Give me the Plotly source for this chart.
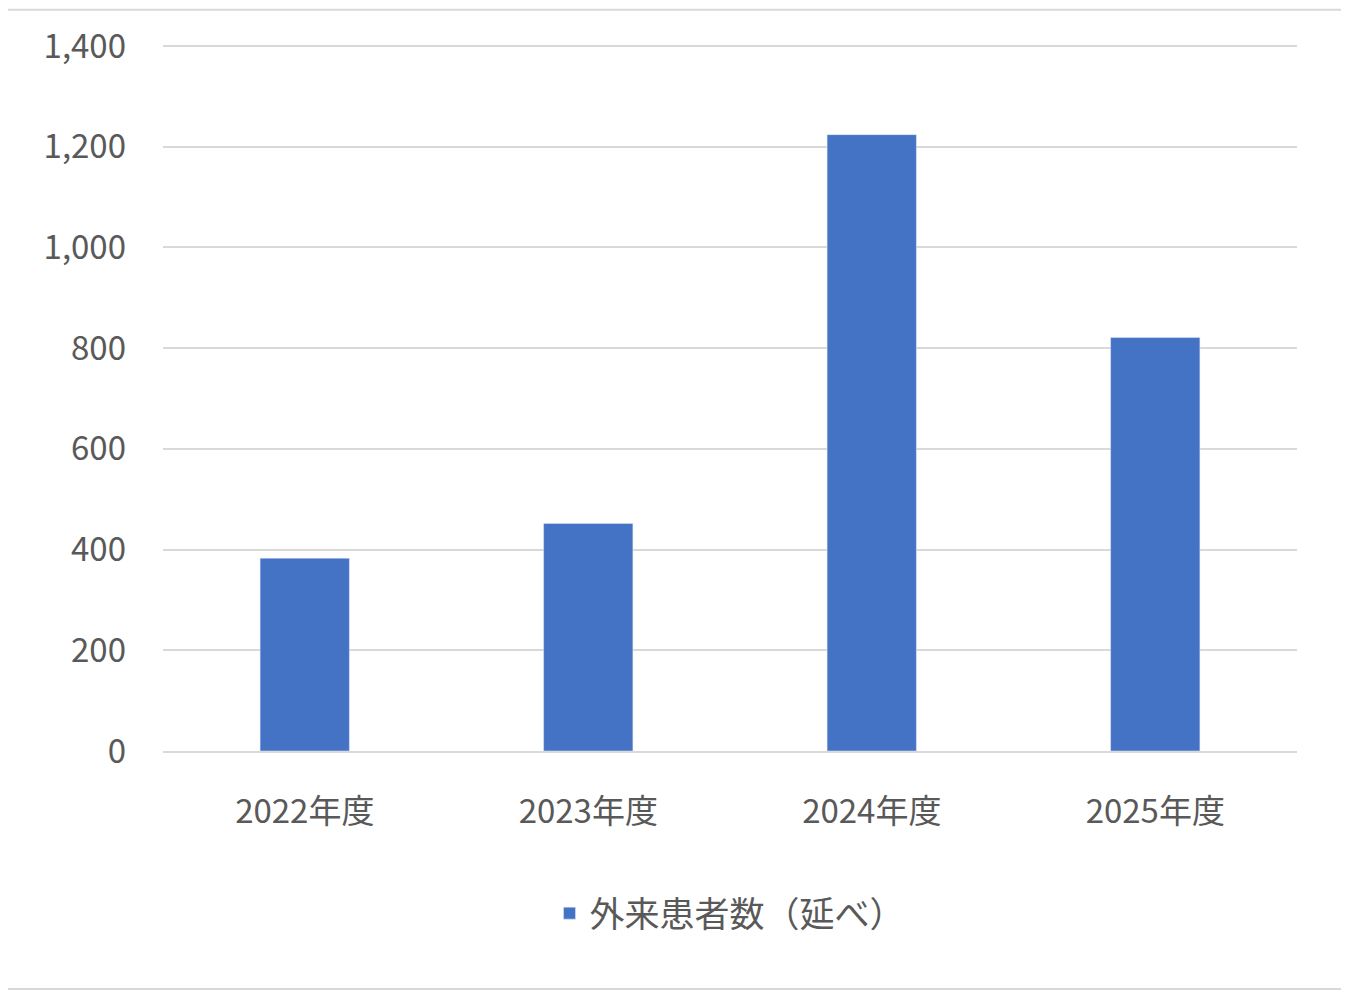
import plotly.graph_objects as go

categories = ["2022年度", "2023年度", "2024年度", "2025年度"]
values = [383, 452, 1224, 821]
series_name = "外来患者数（延べ）"

font = "Noto Sans CJK JP"

fig = go.Figure(go.Bar(x=categories, y=values, name=series_name,
                       marker_color="#4472C4", width=0.315, showlegend=True))

fig.update_layout(
    width=1349, height=993,
    paper_bgcolor="white", plot_bgcolor="white",
    margin=dict(l=155, r=60, t=34, b=250),
    font=dict(family=font, size=33, color="#595959"),
    legend=dict(orientation="h", x=0.5, xanchor="center", y=-0.23, yanchor="middle",
                font=dict(size=35)),
    yaxis=dict(range=[0, 1402], dtick=200, tickformat=",", showgrid=True,
               gridcolor="#D9D9D9", gridwidth=2, zeroline=False, showline=False,
               ticks="", ticklabelstandoff=36),
    xaxis=dict(showline=True, linecolor="#D9D9D9", linewidth=2, ticks="",
               ticklabelstandoff=30),
    shapes=[dict(type="rect", xref="paper", yref="paper", x0=-0.14, x1=1.0432,
                 y0=-0.337, y1=1.05, line=dict(color="#D9D9D9", width=2))],
)

fig.write_html("out.html")
